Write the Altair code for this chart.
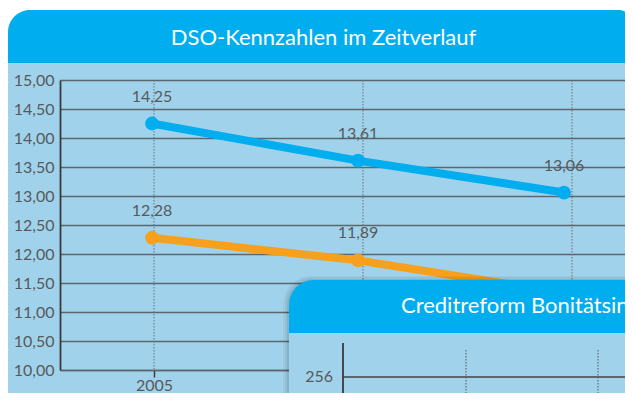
import altair as alt
import pandas as pd

# ---------------- data ----------------
years = [2005, 2006, 2007]
dso_blue = [14.25, 13.61, 13.06]
dso_orange = [12.28, 11.89, 11.33]   # last value hidden behind the inset panel
series_names = ["DSO A", "DSO B"]
series_colors = ["#00AEEF", "#F6A01E"]
point_colors = ["#10B4EE", "#F8B24F"]
y_ticks = [10.0, 10.5, 11.0, 11.5, 12.0, 12.5, 13.0, 13.5, 14.0, 14.5, 15.0]
chart_title = "DSO-Kennzahlen im Zeitverlauf"
inset_title = "Creditreform Bonitätsindex"
inset_ticks = ["256"]

# ---------------- layout ----------------
OX, OY = 60, 80          # page position of the plot origin
W, H = 565, 290          # plot area
PAD = {"left": 52, "top": 72, "right": 0, "bottom": 23}
FONT = "Lato"
TXT = "#58595B"
GRID = "#5B666E"
BLUE = "#00AEEF"
LIGHT = "#A0D3EB"


def px(x):
    return x - OX


def py(y):
    return y - OY


one = alt.Data(values=[{"k": 0}])


def rect(x1, y1, x2, y2, color, **kw):
    return alt.Chart(one).mark_rect(color=color, **kw).encode(
        x=alt.value(px(x1)), x2=alt.value(px(x2)),
        y=alt.value(py(y1)), y2=alt.value(py(y2)))


def label(x, y, text, **kw):
    return alt.Chart(one).mark_text(text=text, font=FONT, **kw).encode(
        x=alt.value(px(x)), y=alt.value(py(y)))


def hrule(x1, x2, y, color, **kw):
    return alt.Chart(one).mark_rule(color=color, **kw).encode(
        x=alt.value(px(x1)), x2=alt.value(px(x2)), y=alt.value(py(y)))


def vrule(x, y1, y2, color, **kw):
    return alt.Chart(one).mark_rule(color=color, **kw).encode(
        x=alt.value(px(x)), y=alt.value(py(y1)), y2=alt.value(py(y2)))


rows = []
for name, vals in zip(series_names, [dso_blue, dso_orange]):
    for yr, v in zip(years, vals):
        rows.append({"year": yr, "value": v, "series": name})
df = pd.DataFrame(rows)

# scales
pt_domain = [2005 - 92 / 206, 2005 + (W - 92) / 206]
ax_domain = [2005 - 94 / 209, 2005 + (W - 94) / 209]
yscale = alt.Scale(domain=[10, 15], nice=False, zero=False)

y_axis = alt.Axis(values=y_ticks,
                  labelExpr="replace(format(datum.value, '.2f'), '.', ',')",
                  grid=True, gridColor=GRID, gridWidth=1.6,
                  domain=True, domainColor="#3A3A3A", domainWidth=1.8,
                  ticks=False, labelPadding=6, labelFontSize=16,
                  labelColor=TXT, labelFont=FONT, title=None, zindex=0)

# ---------------- panel frame ----------------
frame = alt.layer(
    rect(0, 0, 640, 63, "white"),
    rect(8, 10, 632.5, 63, BLUE, cornerRadiusTopLeft=22, cornerRadiusTopRight=14),
    label(323.5, 45, chart_title, fontSize=22, color="white", align="center",
          baseline="alphabetic"),
    rect(0, 380, 36, 410, "white"),
    rect(8, 379, 50, 404, LIGHT, cornerRadiusBottomLeft=24),
)

# ---------------- x axis + dotted verticals ----------------
xaxis_layer = alt.Chart(pd.DataFrame({"year": years})).mark_rule(
    color="#6A6F73", strokeWidth=1, strokeDash=[1.5, 1.5]
).encode(
    x=alt.X("year:Q", scale=alt.Scale(domain=ax_domain, nice=False, zero=False),
            axis=alt.Axis(values=years, format="d", grid=False, domain=True,
                          domainColor=GRID, domainWidth=1.6, tickColor="#3A3A3A",
                          tickSize=7, tickWidth=1.5, labelFontSize=16,
                          labelColor=TXT, labelFont=FONT, labelPadding=0,
                          labelFlush=False, labelOverlap=False, title=None,
                          zindex=0)),
    y=alt.Y("v:Q", scale=yscale, axis=y_axis),
).transform_calculate(v="15")

# ---------------- data series ----------------
base = alt.Chart(df).encode(
    x=alt.X("year:Q", scale=alt.Scale(domain=pt_domain, nice=False, zero=False),
            axis=None),
    y=alt.Y("value:Q", scale=yscale, axis=y_axis),
)
lines = base.mark_line(strokeWidth=8).encode(
    color=alt.Color("series:N", scale=alt.Scale(domain=series_names,
                                                 range=series_colors),
                    legend=None))
points = base.mark_circle(size=190, opacity=1).encode(
    color=alt.Color("series:N", scale=alt.Scale(domain=series_names,
                                                 range=point_colors),
                    legend=None))
# the label of the last orange point is hidden behind the inset in the original
texts = base.mark_text(dy=-27, fontSize=16, font=FONT, color=TXT).encode(
    text="lbl:N"
).transform_filter(
    f"datum.series == '{series_names[0]}' || datum.year < {years[-1]}"
).transform_calculate(lbl="replace(format(datum.value, '.2f'), '.', ',')")
series = alt.layer(lines, points, texts)

# ---------------- overlapping inset panel ----------------
inset = alt.layer(
    rect(283, 276, 640, 420, "black", opacity=0.04, cornerRadiusTopLeft=28),
    rect(285, 277, 640, 420, "black", opacity=0.05, cornerRadiusTopLeft=27),
    rect(287, 279, 640, 420, "black", opacity=0.07, cornerRadiusTopLeft=26),
    rect(289, 280, 640, 420, BLUE, cornerRadiusTopLeft=25),
    rect(289, 333, 640, 420, LIGHT),
    label(401, 313, inset_title, fontSize=22, color="white", align="left",
          baseline="alphabetic"),
    vrule(466, 350, 420, "#555", strokeWidth=1, strokeDash=[1.5, 1.5]),
    vrule(598, 350, 420, "#555", strokeWidth=1, strokeDash=[1.5, 1.5]),
    hrule(343, 640, 377, GRID, strokeWidth=1.8),
    vrule(343, 343, 420, "#3A3A3A", strokeWidth=1.8),
    label(333, 377, inset_ticks[0], fontSize=16, color=TXT, align="right",
          baseline="middle"),
)

chart = alt.layer(frame, xaxis_layer, series, inset).resolve_scale(
    x="independent"
).properties(
    width=W, height=H, padding=PAD,
    autosize=alt.AutoSizeParams(type="none"),
).configure(background=LIGHT).configure_view(stroke=None)

chart.save("out.html", embed_options={"renderer": "svg", "actions": False})
